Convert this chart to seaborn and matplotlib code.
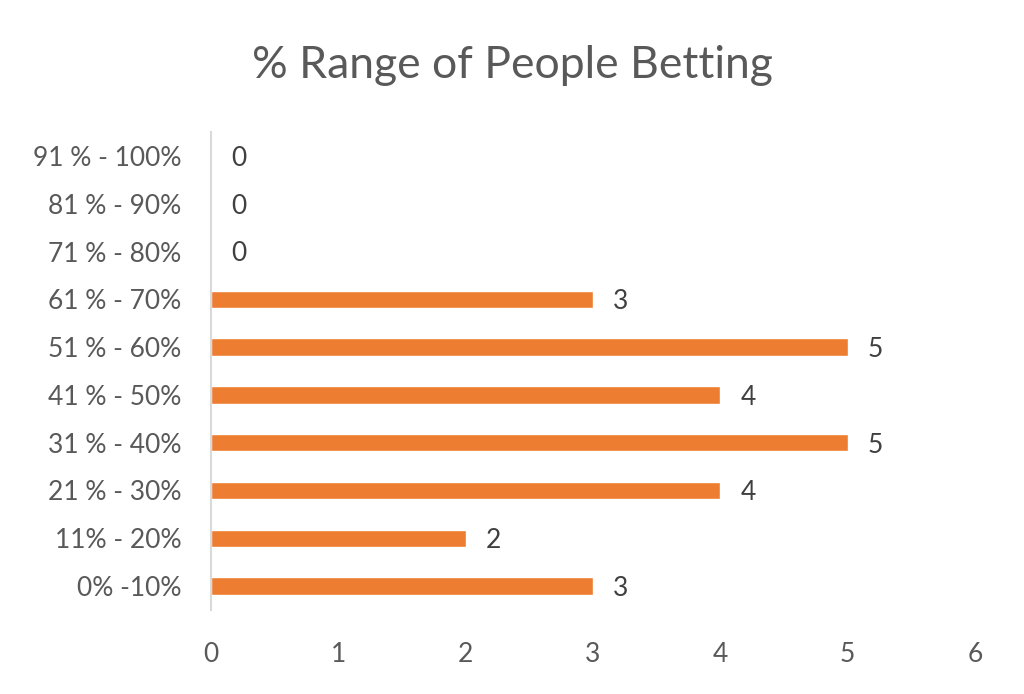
import matplotlib
matplotlib.use("Agg")
import matplotlib.pyplot as plt
import seaborn as sns
import pandas as pd

ranges = ["0% -10%", "11% - 20%", "21 % - 30%", "31 % - 40%", "41 % - 50%",
          "51 % - 60%", "61 % - 70%", "71 % - 80%", "81 % - 90%", "91 % - 100%"]
counts = [3, 2, 4, 5, 4, 5, 3, 0, 0, 0]
x_ticks = [0, 1, 2, 3, 4, 5, 6]

sns.set_theme(style="white")
plt.rcParams['font.family'] = ['Lato', 'DejaVu Sans']

grey = "#595959"
orange = "#ED7D31"

df = pd.DataFrame({"range": ranges[::-1], "count": counts[::-1]})

fig = plt.figure(figsize=(10.24, 6.94), dpi=100)
ax = fig.add_axes([211 / 1024, 1 - 610 / 694, (975 - 211) / 1024, 478 / 694])

sns.barplot(data=df, x="count", y="range", color=orange, width=0.36,
            saturation=1, ax=ax, orient="h")

# value labels to the right of each bar
for i, v in enumerate(df["count"]):
    ax.text(v + 0.16, i + 0.05, str(v), va="center", ha="left", fontsize=19, color="#404040")

ax.set_xlim(0, 6)
ax.set_ylim(9.5, -0.5)
ax.set_xticks(x_ticks)
ax.set_xlabel("")
ax.set_ylabel("")
ax.tick_params(axis="x", labelsize=19, colors=grey, length=0, pad=23)
ax.tick_params(axis="y", labelsize=19, colors=grey, length=0, pad=21.5)

for s in ["top", "right", "bottom"]:
    ax.spines[s].set_visible(False)
ax.spines["left"].set_color("#D9D9D9")
ax.spines["left"].set_linewidth(1.5)

fig.text(0.5, 1 - 65 / 694, "% Range of People Betting", ha="center", va="center",
         fontsize=32, color=grey)

fig.savefig("out.png", dpi=100)
